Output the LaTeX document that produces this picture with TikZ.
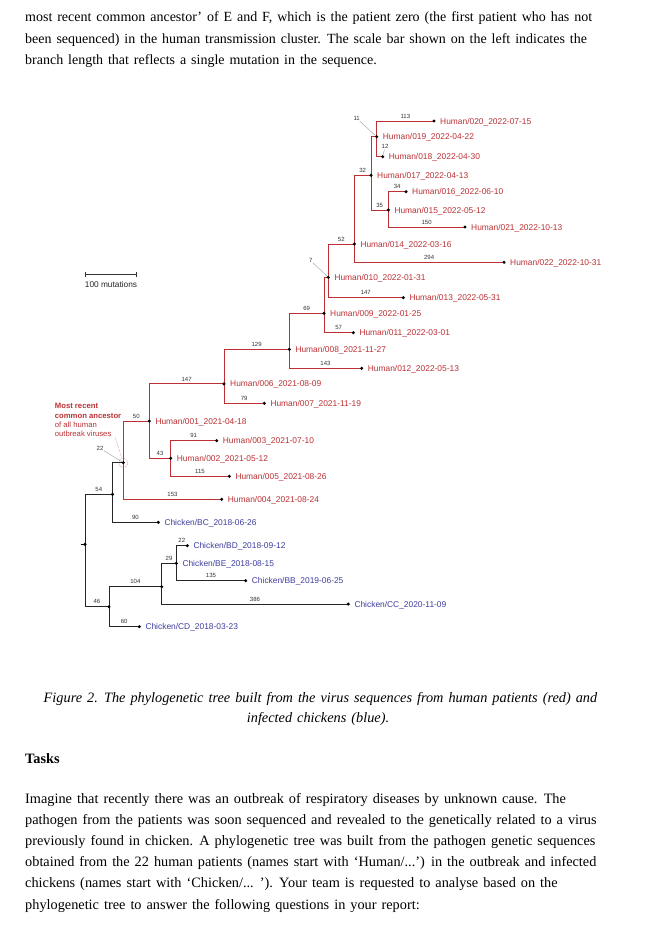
\documentclass[tikz,border=0pt]{standalone}
\usepackage{fontspec}
\setmainfont{Liberation Serif}[WordSpace=1.4]
\setsansfont{Liberation Sans}
\definecolor{hred}{RGB}{188,48,52}
\definecolor{cblue}{RGB}{62,62,160}
\definecolor{lgray}{RGB}{150,150,150}
\newcommand\tipfont{\sffamily\fontsize{8.4}{10}\selectfont}
\newcommand\lenfont{\sffamily\fontsize{6}{7}\selectfont}
\newcommand\bodyfont{\fontsize{14}{16}\selectfont}
\newcommand\parafont{\fontsize{14.3}{16}\selectfont}
\pgfdeclarelayer{bg}
\pgfsetlayers{bg,main}

\begin{document}
\begin{tikzpicture}[x=1pt,y=-1pt,
  dot/.style={circle,fill=black,inner sep=0pt,minimum size=3.4pt},
  hlab/.style={anchor=base west,text=hred,font=\tipfont,inner sep=0pt,xshift=6pt,yshift=-3pt},
  clab/.style={anchor=base west,text=cblue,font=\tipfont,inner sep=0pt,xshift=6pt,yshift=-3pt},
  blen/.style={anchor=south,font=\lenfont,text=black!80,inner sep=0pt,yshift=2.3pt},
  hbr/.style={draw=hred,line width=0.9pt},
  cbr/.style={draw=black!85,line width=0.9pt},
  lead/.style={draw=lgray,line width=0.35pt},
  body/.style={anchor=base west,font=\bodyfont,inner sep=0pt}]
\useasboundingbox (0,0) rectangle (664,926);
\begin{pgfonlayer}{bg}
\fill[white] (0,0) rectangle (664,926);
\end{pgfonlayer}

% text above the figure
\node[body] (t1) at (25,21) {most recent common ancestor’ of E and F, which is the patient zero (the first patient who has not};
\node[body] (t2) at (25,43) {been sequenced) in the human transmission cluster. The scale bar shown on the left indicates the};
\node[body] (t3) at (25,64) {branch length that reflects a single mutation in the sequence.};

% human cluster
\node[dot] (n020) at (434,121) {};
\node[dot] (n019) at (376.7,136.7) {};
\node[dot] (n018) at (382.7,156.7) {};
\node[dot] (n017) at (371,175.3) {};
\node[dot] (n016) at (406,191.7) {};
\node[dot] (n015) at (388.3,210) {};
\node[dot] (n021) at (465,227) {};
\node[dot] (n014) at (354.3,244) {};
\node[dot] (n022) at (504,262.3) {};
\node[dot] (n010) at (328.3,277.3) {};
\node[dot] (n013) at (403.3,297.7) {};
\node[dot] (n009) at (324,313.3) {};
\node[dot] (n011) at (353.3,332.7) {};
\node[dot] (n008) at (289.3,349.3) {};
\node[dot] (n012) at (361.7,368.3) {};
\node[dot] (n006) at (224,383.8) {};
\node[dot] (n007) at (264.3,403.3) {};
\node[dot] (n001) at (149.3,421) {};
\node[dot] (n003) at (216.7,440.7) {};
\node[dot] (n002) at (170.7,458.3) {};
\node[dot] (n005) at (229.3,476.3) {};
\node[dot] (mrca) at (123.3,462.7) {};
\node[dot] (n004) at (221.7,499.3) {};

% chickens
\node[dot] (n54) at (112.5,494.3) {};
\node[dot] (BC) at (158.3,522.3) {};
\node[dot] (root) at (85,544.3) {};
\node[dot] (BD) at (187.3,545.7) {};
\node[dot] (BE) at (176.3,563.3) {};
\node[dot] (BB) at (245.7,580.7) {};
\node[dot] (n104) at (161.7,586.7) {};
\node[dot] (CC) at (348.3,604) {};
\node[dot] (n46) at (109,606.7) {};
\node[dot] (CD) at (139.3,626.7) {};

\node[hlab] (l020) at (n020) {Human/020\_2022-07-15};
\node[hlab] (l019) at (n019) {Human/019\_2022-04-22};
\node[hlab] (l018) at (n018) {Human/018\_2022-04-30};
\node[hlab] (l017) at (n017) {Human/017\_2022-04-13};
\node[hlab] (l016) at (n016) {Human/016\_2022-06-10};
\node[hlab] (l015) at (n015) {Human/015\_2022-05-12};
\node[hlab] (l021) at (n021) {Human/021\_2022-10-13};
\node[hlab] (l014) at (n014) {Human/014\_2022-03-16};
\node[hlab] (l022) at (n022) {Human/022\_2022-10-31};
\node[hlab] (l010) at (n010) {Human/010\_2022-01-31};
\node[hlab] (l013) at (n013) {Human/013\_2022-05-31};
\node[hlab] (l009) at (n009) {Human/009\_2022-01-25};
\node[hlab] (l011) at (n011) {Human/011\_2022-03-01};
\node[hlab] (l008) at (n008) {Human/008\_2021-11-27};
\node[hlab] (l012) at (n012) {Human/012\_2022-05-13};
\node[hlab] (l006) at (n006) {Human/006\_2021-08-09};
\node[hlab] (l007) at (n007) {Human/007\_2021-11-19};
\node[hlab] (l001) at (n001) {Human/001\_2021-04-18};
\node[hlab] (l003) at (n003) {Human/003\_2021-07-10};
\node[hlab] (l002) at (n002) {Human/002\_2021-05-12};
\node[hlab] (l005) at (n005) {Human/005\_2021-08-26};
\node[hlab] (l004) at (n004) {Human/004\_2021-08-24};
\node[clab] (lBC) at (BC) {Chicken/BC\_2018-06-26};
\node[clab] (lBD) at (BD) {Chicken/BD\_2018-09-12};
\node[clab] (lBE) at (BE) {Chicken/BE\_2018-08-15};
\node[clab] (lBB) at (BB) {Chicken/BB\_2019-06-25};
\node[clab] (lCC) at (CC) {Chicken/CC\_2020-11-09};
\node[clab] (lCD) at (CD) {Chicken/CD\_2018-03-23};

\begin{pgfonlayer}{bg}
\path[hbr] (n019.center) |- (n020.center) node[blen,pos=0.75] {113};
\path[hbr] (n019.center) |- (n018.center);
\path[hbr] (n017.center) |- (n019.center);
\path[hbr] (n017.center) |- (n015.center) node[blen,pos=0.75] {35};
\path[hbr] (n015.center) |- (n016.center) node[blen,pos=0.75] {34};
\path[hbr] (n015.center) |- (n021.center) node[blen,pos=0.75] {150};
\path[hbr] (n014.center) |- (n017.center) node[blen,pos=0.75] {32};
\path[hbr] (n014.center) |- (n022.center) node[blen,pos=0.75] {294};
\path[hbr] (n010.center) |- (n014.center) node[blen,pos=0.75] {52};
\path[hbr] (n010.center) |- (n013.center) node[blen,pos=0.75] {147};
\path[hbr] (n009.center) |- (n010.center);
\path[hbr] (n009.center) |- (n011.center) node[blen,pos=0.75] {57};
\path[hbr] (n008.center) |- (n009.center) node[blen,pos=0.75] {69};
\path[hbr] (n008.center) |- (n012.center) node[blen,pos=0.75] {143};
\path[hbr] (n006.center) |- (n008.center) node[blen,pos=0.75] {129};
\path[hbr] (n006.center) |- (n007.center) node[blen,pos=0.75] {79};
\path[hbr] (n001.center) |- (n006.center) node[blen,pos=0.75] {147};
\path[hbr] (n001.center) |- (n002.center) node[blen,pos=0.75] {43};
\path[hbr] (n002.center) |- (n003.center) node[blen,pos=0.75] {91};
\path[hbr] (n002.center) |- (n005.center) node[blen,pos=0.75] {115};
\path[hbr] (mrca.center) |- (n001.center) node[blen,pos=0.75] {50};
\path[hbr] (mrca.center) |- (n004.center) node[blen,pos=0.75] {153};

\path[cbr] (n54.center) |- (mrca.center);
\path[cbr] (n54.center) |- (BC.center) node[blen,pos=0.75] {90};
\path[cbr] (root.center) |- (n54.center) node[blen,pos=0.75] {54};
\path[cbr] (root.center) |- (n46.center) node[blen,pos=0.75] {46};
\path[cbr] (n46.center) |- (n104.center) node[blen,pos=0.75] {104};
\path[cbr] (n46.center) |- (CD.center) node[blen,pos=0.75] {60};
\path[cbr] (n104.center) |- (BE.center) node[blen,pos=0.75] {29};
\path[cbr] (n104.center) |- (CC.center) node[blen,pos=0.75] {386};
\path[cbr] (BE.center) |- (BD.center) node[blen,pos=0.75] {22};
\path[cbr] (BE.center) |- (BB.center) node[blen,pos=0.75] {135};
\end{pgfonlayer}

% root tick
\coordinate (stub) at (80.7,544.3);
\path[draw,line width=1.2pt] (stub) -- (root.center);

% branches too short for a label
\node[font=\lenfont,text=black!80,inner sep=0.5pt] (b11) at (356.7,118.3) {11};
\node[font=\lenfont,text=black!80,inner sep=0.5pt] (b12) at (385,146.7) {12};
\node[font=\lenfont,text=black!80,inner sep=0.5pt] (b7) at (310.7,260.7) {7};
\node[font=\lenfont,text=black!80,inner sep=0.5pt] (b22) at (100,448.3) {22};
\path[lead] (b11) -- (n019);
\path[lead] (b12) -- (n018);
\path[lead] (b7) -- (n010);
\path[lead] (b22) -- (mrca);

% ancestor note
\node[draw=hred,densely dotted,circle,line width=0.4pt,minimum size=9.4pt,inner sep=0pt] (ring) at (mrca) {};
\node[anchor=north west,align=left,inner sep=0pt,text=hred,font=\sffamily\fontsize{7.7}{9.2}\selectfont] (note) at (54.7,403.3)
  {\textbf{Most recent}\\\textbf{common ancestor}\\of all human\\outbreak viruses};
\coordinate (notetip) at (115,437);
\path[draw=hred,densely dotted,line width=0.4pt] (notetip) -- (ring);

% scale bar
\coordinate (sb1) at (85,274);
\coordinate (sb2) at (136,274);
\path[draw,black!80,line width=0.8pt] (sb1) -- (sb2);
\path[draw,black!80,line width=0.8pt] ([yshift=2.5pt]sb1) -- ([yshift=-2.5pt]sb1);
\path[draw,black!80,line width=0.8pt] ([yshift=2.5pt]sb2) -- ([yshift=-2.5pt]sb2);
\node[anchor=base,font=\sffamily\fontsize{8.3}{10}\selectfont,text=black!85,inner sep=0pt] (sblab) at (111,287) {100 mutations};

% caption
\node[anchor=base,font=\parafont\itshape,inner sep=0pt] (cap1) at (320.5,702) {Figure 2. The phylogenetic tree built from the virus sequences from human patients (red) and};
\node[anchor=base,font=\parafont\itshape,inner sep=0pt] (cap2) at (318,722) {infected chickens (blue).};

% tasks
\node[body,font=\parafont\bfseries] (tasks) at (25,763) {Tasks};
\node[body,font=\parafont] (p1) at (25,803) {Imagine that recently there was an outbreak of respiratory diseases by unknown cause. The};
\node[body,font=\parafont] (p2) at (25,824) {pathogen from the patients was soon sequenced and revealed to the genetically related to a virus};
\node[body,font=\parafont] (p3) at (25,845) {previously found in chicken. A phylogenetic tree was built from the pathogen genetic sequences};
\node[body,font=\parafont] (p4) at (25,866) {obtained from the 22 human patients (names start with ‘Human/...’) in the outbreak and infected};
\node[body,font=\parafont] (p5) at (25,887) {chickens (names start with ‘Chicken/... ’). Your team is requested to analyse based on the};
\node[body,font=\parafont] (p6) at (25,909) {phylogenetic tree to answer the following questions in your report:};
\end{tikzpicture}
\end{document}
